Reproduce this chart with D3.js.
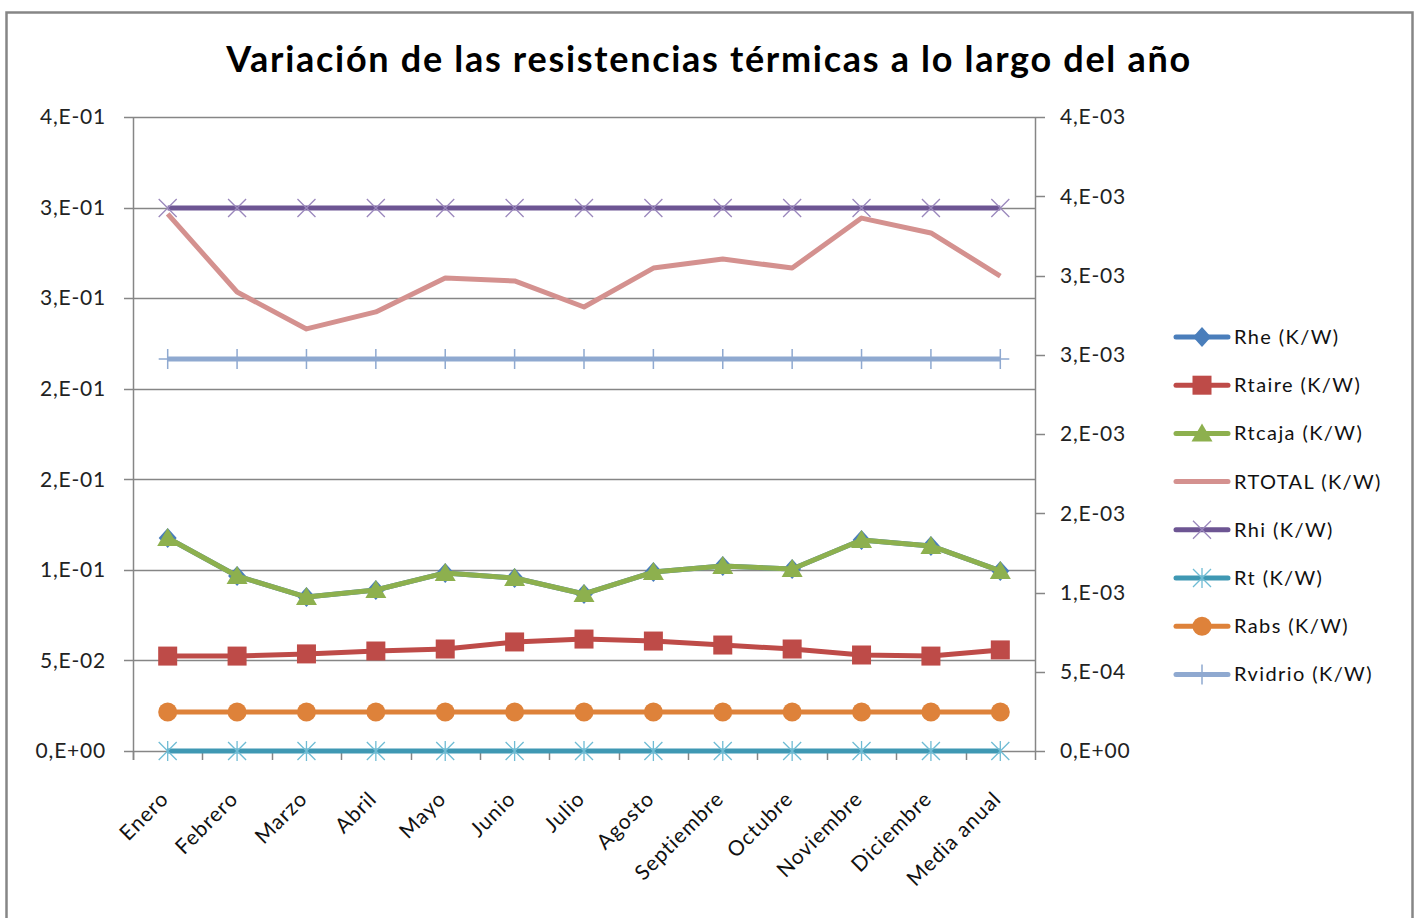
<!DOCTYPE html>
<html>
<head>
<meta charset="utf-8">
<script src="https://cdn.jsdelivr.net/npm/d3@7"></script>
<style>
  body { margin: 0; background: #fff; }
  svg { display: block; font-family: Lato, "Open Sans", sans-serif; }
</style>
</head>
<body>
<svg id="chart" width="1416" height="918"></svg>
<script>
const width = 1416
const height = 918

const months = ["Enero", "Febrero", "Marzo", "Abril", "Mayo", "Junio", "Julio",
    "Agosto", "Septiembre", "Octubre", "Noviembre", "Diciembre", "Media anual"]

// left axis series (K/W)
const rhe = [0.1176, 0.0966, 0.0850, 0.0889, 0.0983, 0.0955, 0.0867, 0.0988, 0.1021, 0.1005, 0.1165, 0.1132, 0.0994]
const rtaire = [0.0524, 0.0524, 0.0536, 0.0552, 0.0563, 0.0602, 0.0618, 0.0607, 0.0585, 0.0563, 0.0530, 0.0524, 0.0558]
const rtcaja = [0.1176, 0.0966, 0.0850, 0.0889, 0.0983, 0.0955, 0.0867, 0.0988, 0.1021, 0.1005, 0.1165, 0.1132, 0.0994]
const rtotal = [0.2965, 0.2534, 0.2330, 0.2424, 0.2611, 0.2595, 0.2451, 0.2666, 0.2716, 0.2666, 0.2942, 0.2860, 0.2622]
const rabs = [0.0215, 0.0215, 0.0215, 0.0215, 0.0215, 0.0215, 0.0215, 0.0215, 0.0215, 0.0215, 0.0215, 0.0215, 0.0215]
// right axis series (K/W)
const rhi = [0.003426, 0.003426, 0.003426, 0.003426, 0.003426, 0.003426, 0.003426, 0.003426, 0.003426, 0.003426, 0.003426, 0.003426, 0.003426]
const rt = [0, 0, 0, 0, 0, 0, 0, 0, 0, 0, 0, 0, 0]
const rvidrio = [0.002473, 0.002473, 0.002473, 0.002473, 0.002473, 0.002473, 0.002473, 0.002473, 0.002473, 0.002473, 0.002473, 0.002473, 0.002473]

const leftTicks = [0, 0.05, 0.1, 0.15, 0.2, 0.25, 0.3, 0.35]
const rightTicks = [0, 0.0005, 0.001, 0.0015, 0.002, 0.0025, 0.003, 0.0035, 0.004]

const series = [
    { name: "Rhe (K/W)", values: rhe, axis: "left", color: "#4A7EBB", marker: "diamond" },
    { name: "Rtaire (K/W)", values: rtaire, axis: "left", color: "#BE4B48", marker: "square" },
    { name: "Rtcaja (K/W)", values: rtcaja, axis: "left", color: "#8DB04E", marker: "triangle" },
    { name: "RTOTAL (K/W)", values: rtotal, axis: "left", color: "#D4918F", marker: "none" },
    { name: "Rhi (K/W)", values: rhi, axis: "right", color: "#6D5593", marker: "x", mcolor: "#9A87BC" },
    { name: "Rt (K/W)", values: rt, axis: "right", color: "#3F98B3", marker: "star", mcolor: "#6FBCD4" },
    { name: "Rabs (K/W)", values: rabs, axis: "left", color: "#DE823A", marker: "circle" },
    { name: "Rvidrio (K/W)", values: rvidrio, axis: "right", color: "#8FA9D0", marker: "plus", mcolor: "#8FA9D0" }
]

// draw order: Excel draws secondary-axis series first, then primary
const drawOrder = [4, 5, 7, 3, 6, 1, 0, 2]

const plot = { left: 133, right: 1035, top: 117, bottom: 751 }

const x = d3.scalePoint().domain(months).range([plot.left, plot.right]).padding(0.5)
const band = d3.scaleBand().domain(months).range([plot.left, plot.right])
const yL = d3.scaleLinear().domain([0, 0.35]).range([plot.bottom, plot.top])
const yR = d3.scaleLinear().domain([0, 0.004]).range([plot.bottom, plot.top])

// Excel-like "0,E+00" format
const sci = v => {
    if (v === 0) return "0,E+00"
    let [m, e] = v.toExponential(6).split("e")
    let mant = Math.round(+m)
    let exp = +e
    if (mant >= 10) { mant = 1; exp += 1 }
    const s = exp < 0 ? "-" : "+"
    return `${mant},E${s}${String(Math.abs(exp)).padStart(2, "0")}`
}

const svg = d3.select("#chart")
const grey = "#868686"

// outer chart frame
svg.append("rect")
    .attr("x", 6.5).attr("y", 12.5)
    .attr("width", 1406).attr("height", 920)
    .attr("fill", "#fff")
    .attr("stroke", grey).attr("stroke-width", 2.5)

svg.append("text")
    .attr("x", 709).attr("y", 72)
    .attr("text-anchor", "middle")
    .style("font-size", "36px")
    .style("font-weight", "bold")
    .style("letter-spacing", "1.7px")
    .text("Variación de las resistencias térmicas a lo largo del año")

// gridlines
svg.append("g")
    .selectAll("line")
    .data(leftTicks)
    .enter()
    .append("line")
    .attr("x1", plot.left - 9).attr("x2", plot.right)
    .attr("y1", d => Math.round(yL(d)) + 0.5).attr("y2", d => Math.round(yL(d)) + 0.5)
    .attr("stroke", grey).attr("stroke-width", 1.5)

// left axis
const gl = svg.append("g")
gl.append("line")
    .attr("x1", plot.left + 0.5).attr("x2", plot.left + 0.5)
    .attr("y1", plot.top).attr("y2", plot.bottom + 9)
    .attr("stroke", grey).attr("stroke-width", 1.5)
gl.selectAll("text")
    .data(leftTicks)
    .enter()
    .append("text")
    .attr("x", 106).attr("y", d => yL(d))
    .attr("dy", "0.35em")
    .attr("text-anchor", "end")
    .style("font-size", "21px")
    .style("letter-spacing", "0.8px")
    .attr("fill", "#222")
    .text(sci)

// right axis
const gr = svg.append("g")
gr.append("line")
    .attr("x1", plot.right + 0.5).attr("x2", plot.right + 0.5)
    .attr("y1", plot.top).attr("y2", plot.bottom)
    .attr("stroke", grey).attr("stroke-width", 1.5)
gr.selectAll("line.tick")
    .data(rightTicks)
    .enter()
    .append("line")
    .attr("class", "tick")
    .attr("x1", plot.right).attr("x2", plot.right + 10)
    .attr("y1", d => Math.round(yR(d)) + 0.5).attr("y2", d => Math.round(yR(d)) + 0.5)
    .attr("stroke", grey).attr("stroke-width", 1.5)
gr.selectAll("text")
    .data(rightTicks)
    .enter()
    .append("text")
    .attr("x", 1060).attr("y", d => yR(d))
    .attr("dy", "0.35em")
    .style("font-size", "21px")
    .style("letter-spacing", "0.8px")
    .attr("fill", "#222")
    .text(sci)

// x axis
const gx = svg.append("g")
gx.selectAll("line")
    .data(months.map(m => band(m)).concat([plot.right]))
    .enter()
    .append("line")
    .attr("x1", d => Math.round(d) + 0.5).attr("x2", d => Math.round(d) + 0.5)
    .attr("y1", plot.bottom).attr("y2", plot.bottom + 9)
    .attr("stroke", grey).attr("stroke-width", 1.5)
gx.selectAll("text")
    .data(months)
    .enter()
    .append("text")
    .attr("transform", d => `translate(${x(d) - 3},${plot.bottom + 44}) rotate(-45)`)
    .attr("text-anchor", "end")
    .attr("dy", "0.35em")
    .style("font-size", "21px")
    .style("letter-spacing", "1px")
    .attr("fill", "#111")
    .text(d => d)

// markers
const drawMarker = (g, type, color, mcolor) => {
    if (type === "diamond") {
        g.append("path").attr("d", "M0,-10L9,0L0,10L-9,0Z").attr("fill", color)
    } else if (type === "square") {
        g.append("rect").attr("x", -9.5).attr("y", -9.5).attr("width", 19).attr("height", 19).attr("fill", color)
    } else if (type === "triangle") {
        g.append("path").attr("d", "M0,-10L10.5,8L-10.5,8Z").attr("fill", color)
    } else if (type === "circle") {
        g.append("circle").attr("r", 9.5).attr("fill", color)
    } else if (type === "x") {
        g.append("path").attr("d", "M-9,-9L9,9M-9,9L9,-9").attr("stroke", mcolor).attr("stroke-width", 1.3)
    } else if (type === "star") {
        g.append("path").attr("d", "M-9,-9L9,9M-9,9L9,-9M0,-10L0,10").attr("stroke", mcolor).attr("stroke-width", 1.3)
    } else if (type === "plus") {
        g.append("path").attr("d", "M0,-10L0,10M-9,0L9,0").attr("stroke", mcolor).attr("stroke-width", 1.5)
    }
}

const gs = svg.append("g")
drawOrder.forEach(i => {
    const s = series[i]
    const y = s.axis === "left" ? yL : yR
    const line = d3.line().x((d, j) => x(months[j])).y(d => y(d))
    const g = gs.append("g")
    g.append("path")
        .attr("d", line(s.values))
        .attr("fill", "none")
        .attr("stroke", s.color)
        .attr("stroke-width", 5)
        .attr("stroke-linejoin", "round")
    s.values.forEach((v, j) => {
        const m = g.append("g").attr("transform", `translate(${x(months[j])},${y(v)})`)
        drawMarker(m, s.marker, s.color, s.mcolor)
    })
})

// legend
const lg = svg.append("g")
series.forEach((s, i) => {
    const cy = 337 + i * 48.2
    const g = lg.append("g").attr("transform", `translate(0,${cy})`)
    g.append("line")
        .attr("x1", 1176).attr("x2", 1228)
        .attr("stroke", s.color).attr("stroke-width", 5)
        .attr("stroke-linecap", "round")
    const m = g.append("g").attr("transform", "translate(1202,0)")
    drawMarker(m, s.marker, s.color, s.mcolor)
    g.append("text")
        .attr("x", 1234).attr("dy", "0.35em")
        .style("font-size", "20px")
        .style("letter-spacing", "1.4px")
        .attr("fill", "#111")
        .text(s.name)
})
</script>
</body>
</html>
